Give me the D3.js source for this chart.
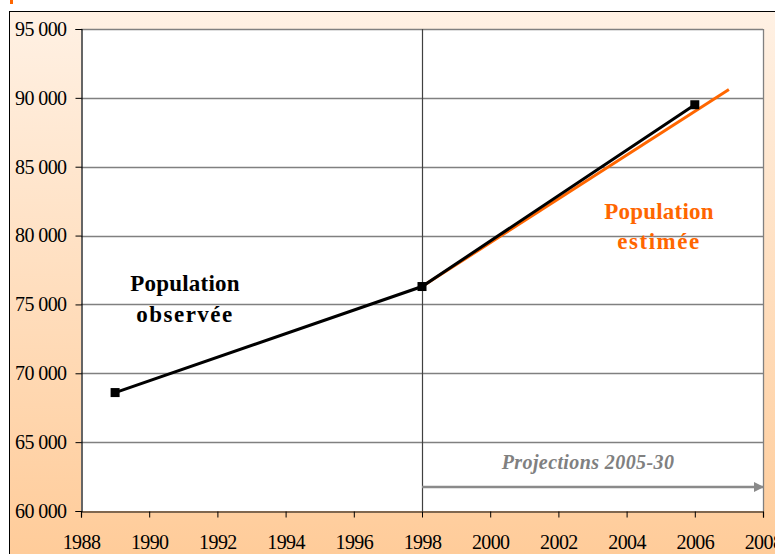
<!DOCTYPE html>
<html><head><meta charset="utf-8">
<script src="https://cdn.jsdelivr.net/npm/d3@7/dist/d3.min.js"></script>
<style>
html,body{margin:0;padding:0;background:#fff;}
svg{display:block;}
text{font-family:"Liberation Serif","Times New Roman",serif;}
</style></head>
<body>
<svg id="chart" width="775" height="554"></svg>
<script>
// ---- data ----
const observedYears = [1989, 1998, 2006];
const observedValues = [68600, 76300, 89500];
const estimatedYears = [1998, 2007];
const estimatedValues = [76300, 90600];
const yTicks = [60000, 65000, 70000, 75000, 80000, 85000, 90000, 95000];
const xTicks = [1988, 1990, 1992, 1994, 1996, 1998, 2000, 2002, 2004, 2006, 2008];
const observedLabel = ["Population", "observée"];
const estimatedLabel = ["Population", "estimée"];
const projectionLabel = "Projections 2005-30";
const projectionStart = 1998;

const svg = d3.select("#chart");
const W = 775, H = 554;
const plot = {left: 81, right: 763, top: 29, bottom: 511};
const FONT = "'Liberation Serif','Times New Roman',serif";

// background
const defs = svg.append("defs");
const grad = defs.append("linearGradient").attr("id","bg").attr("x1",0).attr("y1",0).attr("x2",0).attr("y2",1);
grad.append("stop").attr("offset","0%").attr("stop-color","#FFF1E4");
grad.append("stop").attr("offset","100%").attr("stop-color","#FFCB98");
defs.append("marker").attr("id","arrow").attr("viewBox","0 0 10 10").attr("refX",9).attr("refY",5)
  .attr("markerWidth",4).attr("markerHeight",4).attr("orient","auto")
  .append("path").attr("d","M0,0L10,5L0,10Z").attr("fill","#8a8a8a");

svg.append("rect").attr("x",9.5).attr("y",11.5).attr("width",W).attr("height",H)
  .attr("fill","url(#bg)").attr("stroke","#000").attr("stroke-width",1);
// cut-off title fragment
svg.append("rect").attr("x",10).attr("y",0).attr("width",3).attr("height",4).attr("fill","#FF6600");

// plot area
svg.append("rect").attr("x",plot.left).attr("y",plot.top)
  .attr("width",plot.right-plot.left).attr("height",plot.bottom-plot.top).attr("fill","#fff");

const x = d3.scaleLinear().domain([1988,2008]).range([plot.left, plot.right]);
const y = d3.scaleLinear().domain([60000,95000]).range([plot.bottom, plot.top]);

const loc = d3.formatLocale({decimal:",", thousands:"\u00a0", grouping:[3], currency:["","€"]});
const fmt = loc.format(",d");

// gridlines
svg.append("g").selectAll("line").data(yTicks.filter(d=>d>60000)).join("line")
  .attr("x1",plot.left).attr("x2",plot.right)
  .attr("y1",d=>Math.round(y(d))+0.5).attr("y2",d=>Math.round(y(d))+0.5)
  .attr("stroke","#808080").attr("stroke-width",1.3);
// right border
svg.append("line").attr("x1",plot.right+0.5).attr("x2",plot.right+0.5)
  .attr("y1",plot.top).attr("y2",plot.bottom).attr("stroke","#808080").attr("stroke-width",1.3);
// 1998 vertical line
svg.append("line").attr("x1",Math.round(x(projectionStart))+0.5).attr("x2",Math.round(x(projectionStart))+0.5)
  .attr("y1",plot.top).attr("y2",plot.bottom).attr("stroke","#404040").attr("stroke-width",1.2);

// axes
const yAxis = d3.axisLeft(y).tickValues(yTicks).tickFormat(fmt).tickSize(6).tickPadding(9);
const gy = svg.append("g").attr("transform",`translate(${plot.left+0.5},0)`).call(yAxis);
const xAxis = d3.axisBottom(x).tickValues(xTicks).tickFormat(d3.format("d")).tickSize(6).tickPadding(20);
const gx = svg.append("g").attr("transform",`translate(0,${plot.bottom+0.5})`).call(xAxis);
[gy,gx].forEach(g=>{
  g.attr("font-family", FONT).attr("font-size", 20);
  g.select(".domain").attr("stroke","#000").attr("stroke-width",1.2);
  g.selectAll(".tick line").attr("stroke","#000");
  g.selectAll("text").attr("fill","#000")
    .style("font-family", FONT).style("font-size","20px").style("letter-spacing","-0.6px");
});
gx.selectAll("text").attr("dy","0.55em");

// lines
const line = d3.line().x(d=>x(d[0])).y(d=>y(d[1]));
const est = estimatedYears.map((d,i)=>[d, estimatedValues[i]]);
const obs = observedYears.map((d,i)=>[d, observedValues[i]]);
svg.append("path").datum(est).attr("d",line).attr("fill","none")
  .attr("stroke","#FF6600").attr("stroke-width",3);
svg.append("path").datum(obs).attr("d",line).attr("fill","none")
  .attr("stroke","#000").attr("stroke-width",3);
svg.append("g").selectAll("rect").data(obs).join("rect")
  .attr("x",d=>x(d[0])-4.5).attr("y",d=>y(d[1])-4.5).attr("width",9).attr("height",9).attr("fill","#000");

// labels
svg.append("text").attr("text-anchor","middle")
  .style("font-size","23px").style("font-weight","bold").attr("fill","#000")
  .selectAll("tspan").data(observedLabel).join("tspan")
  .attr("x",185).attr("y",(d,i)=>291+i*31).style("letter-spacing",(d,i)=>i?"1.5px":"0.2px").text(d=>d);
svg.append("text").attr("text-anchor","middle")
  .style("font-size","23px").style("font-weight","bold").attr("fill","#FF6600")
  .selectAll("tspan").data(estimatedLabel).join("tspan")
  .attr("x",659).attr("y",(d,i)=>219+i*30).style("letter-spacing",(d,i)=>i?"1.5px":"0.2px").text(d=>d);

// projection arrow
svg.append("line").attr("x1",x(projectionStart)).attr("x2",plot.right)
  .attr("y1",487).attr("y2",487).attr("stroke","#8a8a8a").attr("stroke-width",2.5)
  .attr("marker-end","url(#arrow)");
svg.append("text").attr("x",588).attr("y",469).attr("text-anchor","middle")
  .style("font-size","20px").style("font-weight","bold").style("font-style","italic")
  .style("letter-spacing","0.4px")
  .attr("fill","#808080").text(projectionLabel);
</script>
</body></html>
